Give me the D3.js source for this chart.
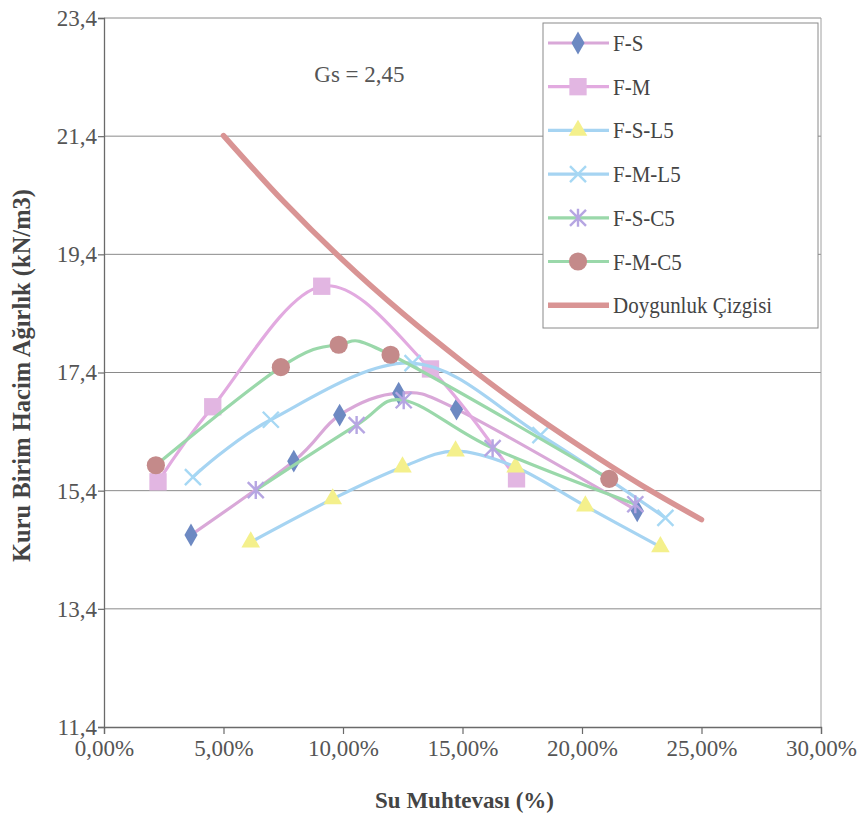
<!DOCTYPE html>
<html>
<head>
<meta charset="utf-8">
<script src="https://cdn.jsdelivr.net/npm/d3@7"></script>
<style>
  #chart text { font-family: "Liberation Serif", Tinos, serif; }
</style>
</head>
<body style="margin:0">
<svg id="chart" width="861" height="828" font-family="Liberation Serif"></svg>
<script>
// Compaction test results: water content (%) vs dry unit weight (kN/m3)
const seriesNames = ["F-S", "F-M", "F-S-L5", "F-M-L5", "F-S-C5", "F-M-C5"];

const fsWater   = [3.64, 7.94, 9.86, 12.33, 14.75, 22.31];
const fsDry     = [14.65, 15.90, 16.68, 17.05, 16.78, 15.06];

const fmWater   = [2.26, 4.55, 9.11, 13.66, 17.26];
const fmDry     = [15.55, 16.82, 18.86, 17.46, 15.60];

const fsl5Water = [6.14, 9.57, 12.49, 14.71, 17.22, 20.14, 23.28];
const fsl5Dry   = [14.53, 15.26, 15.80, 16.07, 15.80, 15.14, 14.45];

const fml5Water = [3.72, 6.98, 12.91, 18.26, 23.49];
const fml5Dry   = [15.63, 16.60, 17.56, 16.34, 14.94];

const fsc5Water = [6.35, 10.57, 12.54, 16.26, 22.23];
const fsc5Dry   = [15.41, 16.51, 16.93, 16.12, 15.17];

const fmc5Water = [2.17, 7.40, 9.82, 11.99, 21.14];
const fmc5Dry   = [15.83, 17.49, 17.87, 17.70, 15.60];

// Zero air voids (saturation) line
const satName  = "Doygunluk Çizgisi";
const satWater = [5.0, 7.5, 10.0, 12.5, 15.0, 17.5, 20.0, 22.5, 25.0];
const satDry   = [21.41, 20.30, 19.30, 18.40, 17.58, 16.82, 16.13, 15.49, 14.91];

const xTicks = [0, 5, 10, 15, 20, 25, 30];
const yTicks = [11.4, 13.4, 15.4, 17.4, 19.4, 21.4, 23.4];

const xTitle = "Su Muhtevası (%)";
const yTitle = "Kuru Birim Hacim Ağırlık (kN/m3)";
const gsNote = "Gs = 2,45";

// Visual style for each series (line colour, marker shape, marker colour)
const styles = {
  "F-S":    { line: "#d9a8d8", marker: "diamond",  fill: "#6d89c2" },
  "F-M":    { line: "#e2aae0", marker: "square",   fill: "#e2b6e2" },
  "F-S-L5": { line: "#a6d4f2", marker: "triangle", fill: "#f4f08c" },
  "F-M-L5": { line: "#a6d4f2", marker: "x",        fill: "#a6d8f4" },
  "F-S-C5": { line: "#9ad8aa", marker: "asterisk", fill: "#b6a6e2" },
  "F-M-C5": { line: "#9ad8aa", marker: "circle",   fill: "#c48a8a" }
};
const satColor = "#d99494";
const serif = '"Liberation Serif"';

// Apply the serif face to a text selection
function serifText(sel, size, weight) {
  sel.attr("font-family", "Liberation Serif")
    .style("font-family", serif)
    .style("font-size", size + "px");
  if (weight) sel.style("font-weight", weight);
  return sel;
}

const seriesData = [
  [fsWater, fsDry], [fmWater, fmDry], [fsl5Water, fsl5Dry],
  [fml5Water, fml5Dry], [fsc5Water, fsc5Dry], [fmc5Water, fmc5Dry]
].map(([w, g], i) => ({
  name: seriesNames[i],
  points: w.map((v, j) => ({ w: v, g: g[j] }))
}));
const satPoints = satWater.map((v, j) => ({ w: v, g: satDry[j] }));

const svg = d3.select("#chart");
const plot = { left: 104, right: 821, top: 18, bottom: 727 };

const x = d3.scaleLinear().domain([0, 30]).range([plot.left, plot.right]);
const y = d3.scaleLinear().domain([11.4, 23.4]).range([plot.bottom, plot.top]);

const fmtX = v => d3.format(".2f")(v).replace(".", ",") + "%";
const fmtY = v => d3.format(".1f")(v).replace(".", ",");

// Horizontal gridlines and plot frame
svg.append("g")
  .selectAll("line")
  .data(yTicks.filter(t => t > 11.4))
  .join("line")
  .attr("x1", plot.left).attr("x2", plot.right)
  .attr("y1", d => y(d)).attr("y2", d => y(d))
  .attr("stroke", "#8a8a8a").attr("stroke-width", 1);

svg.append("line")
  .attr("x1", plot.right).attr("x2", plot.right)
  .attr("y1", plot.top).attr("y2", plot.bottom)
  .attr("stroke", "#a0a0a0").attr("stroke-width", 1);

// Axes
const xAxis = svg.append("g")
  .attr("transform", `translate(0,${plot.bottom})`)
  .call(d3.axisBottom(x).tickValues(xTicks).tickFormat(fmtX).tickSize(7).tickPadding(6));
const yAxis = svg.append("g")
  .attr("transform", `translate(${plot.left},0)`)
  .call(d3.axisLeft(y).tickValues(yTicks).tickFormat(fmtY).tickSize(6).tickPadding(1));

[xAxis, yAxis].forEach(ax => {
  ax.attr("font-family", "Liberation Serif").attr("font-size", 23);
  ax.select(".domain").attr("stroke", "#6a6a6a").attr("stroke-width", 1.3);
  ax.selectAll(".tick line").attr("stroke", "#6a6a6a").attr("stroke-width", 1.2);
  serifText(ax.selectAll(".tick text").attr("fill", "#555"), 23);
});

// Axis titles
serifText(svg.append("text")
  .attr("x", (plot.left + plot.right) / 2 + 2)
  .attr("y", 808)
  .attr("text-anchor", "middle")
  .attr("fill", "#444"), 23, "bold")
  .text(xTitle);

serifText(svg.append("text")
  .attr("transform", `translate(30,${(plot.top + plot.bottom) / 2 + 3}) rotate(-90)`)
  .attr("text-anchor", "middle")
  .attr("fill", "#444"), 24.5, "bold")
  .text(yTitle);

// Specific gravity note
serifText(svg.append("text")
  .attr("x", x(8.8)).attr("y", y(22.32))
  .attr("fill", "#555"), 23)
  .text(gsNote);

// Marker drawing
const symbolMap = {
  diamond: d3.symbolDiamond,
  square: d3.symbolSquare,
  triangle: d3.symbolTriangle,
  circle: d3.symbolCircle
};
const markerSize = { diamond: 150, square: 300, triangle: 150, circle: 260 };

function drawMarker(sel, kind, fill) {
  if (symbolMap[kind]) {
    sel.append("path")
      .attr("d", d3.symbol().type(symbolMap[kind]).size(markerSize[kind])())
      .attr("fill", fill);
  } else if (kind === "x") {
    const r = 8;
    sel.append("path")
      .attr("d", `M${-r},${-r}L${r},${r}M${-r},${r}L${r},${-r}`)
      .attr("stroke", fill).attr("stroke-width", 2.4).attr("fill", "none");
  } else if (kind === "asterisk") {
    const r = 8;
    sel.append("path")
      .attr("d", `M${-r},${-r}L${r},${r}M${-r},${r}L${r},${-r}M0,${-r - 1}L0,${r + 1}`)
      .attr("stroke", fill).attr("stroke-width", 2.4).attr("fill", "none");
  }
}

const line = d3.line()
  .x(d => x(d.w))
  .y(d => y(d.g))
  .curve(d3.curveCatmullRom.alpha(0));

// Series lines and markers
seriesData.forEach(s => {
  const st = styles[s.name];
  svg.append("path")
    .datum(s.points)
    .attr("d", line)
    .attr("fill", "none")
    .attr("stroke", st.line)
    .attr("stroke-width", 3.2)
    .attr("stroke-linejoin", "round");
  svg.append("g")
    .selectAll("g")
    .data(s.points)
    .join("g")
    .attr("transform", d => `translate(${x(d.w)},${y(d.g)})`)
    .each(function () { drawMarker(d3.select(this), st.marker, st.fill); });
});

// Saturation line
svg.append("path")
  .datum(satPoints)
  .attr("d", line)
  .attr("fill", "none")
  .attr("stroke", satColor)
  .attr("stroke-width", 5.5)
  .attr("stroke-linecap", "round");

// Legend
const legend = svg.append("g").attr("transform", "translate(543,23)");
legend.append("rect")
  .attr("width", 275).attr("height", 305)
  .attr("fill", "#fff").attr("stroke", "#8a8a8a").attr("stroke-width", 1);

const legendItems = seriesNames.map(n => ({ name: n, st: styles[n] }))
  .concat([{ name: satName, st: null }]);

legendItems.forEach((it, i) => {
  const g = legend.append("g").attr("transform", `translate(0,${20 + i * 43.7})`);
  if (it.st) {
    g.append("line").attr("x1", 5).attr("x2", 66).attr("y1", 0).attr("y2", 0)
      .attr("stroke", it.st.line).attr("stroke-width", 3.2);
    const m = g.append("g").attr("transform", "translate(35,0)");
    drawMarker(m, it.st.marker, it.st.fill);
  } else {
    g.append("line").attr("x1", 5).attr("x2", 66).attr("y1", 0).attr("y2", 0)
      .attr("stroke", satColor).attr("stroke-width", 5.5);
  }
  serifText(g.append("text")
    .attr("transform", "translate(70,8) scale(1,1.12)")
    .attr("fill", "#444"), 21)
    .text(it.name);
});
</script>
</body>
</html>
